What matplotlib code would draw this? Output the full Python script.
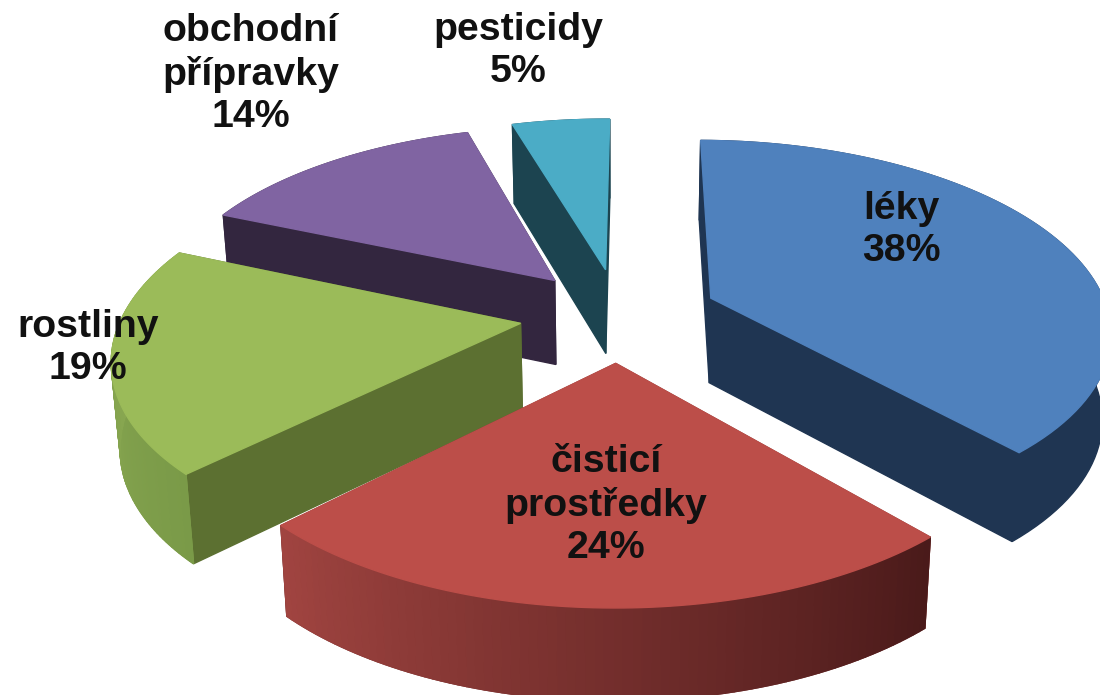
import matplotlib
matplotlib.use("Agg")
import matplotlib.pyplot as plt
import numpy as np
from matplotlib.colors import to_rgb
from matplotlib.patches import Polygon

plt.rcParams["font.family"] = ["Liberation Sans", "DejaVu Sans"]

labels = ["léky", "čisticí\nprostředky", "rostliny", "obchodní\npřípravky", "pesticidy"]
# odhad z obrazku, popisky jsou zaokrouhlene
values = [38.3, 24.2, 18.8, 14, 4.7]

top_colors = ["#4F81BD", "#BC4E49", "#9BBB59", "#8064A2", "#4BACC6"]
cut_colors = ["#1F3552", "#8A3A36", "#5C7031", "#33263F", "#1C4450"]
arc_start_colors = ["#1F3552", "#4A1A1A", "#7A9A48", "#33263F", "#1C4450"]
arc_end_colors = ["#1F3552", "#A04440", "#90AE55", "#33263F", "#1C4450"]

label_pos = [(901, 230), (606, 505), (88, 348), (251, 74), (518, 51)]

# parametry "3D" pohledu (pixely obrazku)
cx, cy = 619, 314.5
radius = 398
tilt = 0.472
persp = 0.16
explode = 0.25
start_angle = 0.4
depth = 85
shrink = 0.0175


def project(x, y, z=0.0):
    s = 1 / (1 + persp * y)
    px = cx + radius * x * s * (1 - shrink * z)
    py = cy - radius * tilt * y * s + depth * z * s**0.4
    return np.column_stack([px, py])


def add_poly(ax, pts, color, lw=1.0):
    ax.add_patch(Polygon(pts, closed=True, facecolor=color, edgecolor=color, linewidth=lw))


fig = plt.figure(figsize=(11, 6.95), dpi=100)
ax = fig.add_axes([0, 0, 1, 1])
ax.set_xlim(0, 1100)
ax.set_ylim(695, 0)
ax.axis("off")

fractions = np.array(values) / sum(values)
ends = np.cumsum(fractions) * 2 * np.pi + np.radians(start_angle)
starts = ends - fractions * 2 * np.pi

# poradi kresleni: od zadnich vyseci k prednim
for i in [4, 3, 0, 2, 1]:
    mid = (starts[i] + ends[i]) / 2
    ox, oy = explode * np.sin(mid), explode * np.cos(mid)
    theta = np.linspace(starts[i], ends[i], 80)
    ax_x = ox + np.sin(theta)
    ax_y = oy + np.cos(theta)

    apex_top = project(np.array([ox]), np.array([oy]))
    apex_bot = project(np.array([ox]), np.array([oy]), 1)
    top = project(ax_x, ax_y)
    bot = project(ax_x, ax_y, 1)

    # rezy
    add_poly(ax, np.vstack([apex_top, top[:1], bot[:1], apex_bot]), cut_colors[i])
    add_poly(ax, np.vstack([apex_top, top[-1:], bot[-1:], apex_bot]), cut_colors[i])

    # vnejsi stena: nejdriv cela plocha, pak prechod po dilcich
    c0, c1 = np.array(to_rgb(arc_start_colors[i])), np.array(to_rgb(arc_end_colors[i]))
    add_poly(ax, np.vstack([top, bot[::-1]]), tuple((c0 + c1) / 2))
    if arc_start_colors[i] != arc_end_colors[i]:
        for j in range(len(theta) - 1):
            col = c0 + (c1 - c0) * j / (len(theta) - 2)
            add_poly(ax, np.vstack([top[j], top[j + 1], bot[j + 1], bot[j]]), tuple(col))

    add_poly(ax, np.vstack([apex_top, top]), top_colors[i])

for name, val, (x, y) in zip(labels, values, label_pos):
    ax.text(x, y, f"{name}\n{round(val)}%", ha="center", va="center", fontsize=28.3,
            fontweight="bold", color="#111111", linespacing=1.22)

fig.savefig("out.png", dpi=100)
